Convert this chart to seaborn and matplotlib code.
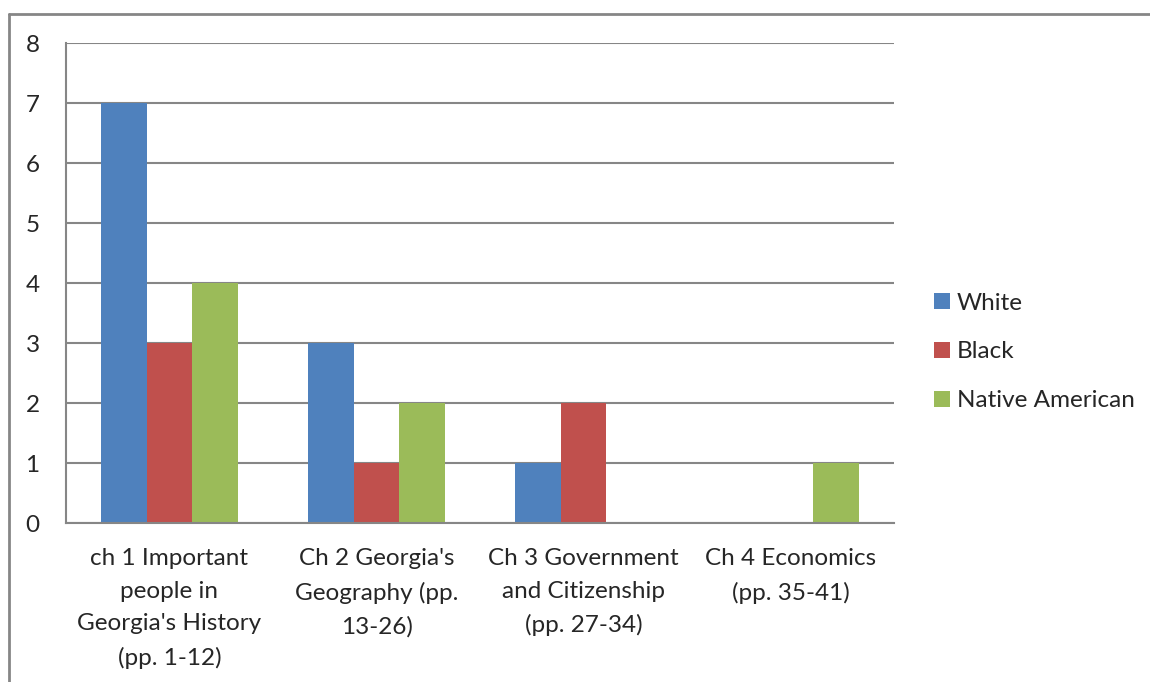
import matplotlib
matplotlib.use("Agg")
import matplotlib.pyplot as plt
import seaborn as sns
import pandas as pd
from matplotlib.lines import Line2D

categories = ["ch 1 Important\npeople in\nGeorgia's History\n(pp. 1-12)",
              "Ch 2 Georgia's\nGeography (pp.\n13-26)",
              "Ch 3 Government\nand Citizenship\n(pp. 27-34)",
              "Ch 4 Economics\n(pp. 35-41)"]
series_names = ["White", "Black", "Native American"]
white = [7, 3, 1, 0]
black = [3, 1, 2, 0]
native = [4, 2, 0, 1]
colors = ["#4F81BD", "#C0504D", "#9BBB59"]
y_ticks = [0, 1, 2, 3, 4, 5, 6, 7, 8]

rows = []
for name, vals in zip(series_names, [white, black, native]):
    for c, v in zip(categories, vals):
        rows.append({"cat": c, "series": name, "value": v})
df = pd.DataFrame(rows)

sns.set_style("white")
plt.rcParams['font.family'] = ['Lato', 'DejaVu Sans']

FS = 17.5
fig = plt.figure(figsize=(11.5, 6.82), dpi=100)
ax = fig.add_axes([66/1150, 1-523/682, (894-66)/1150, (523-43)/682])

sns.barplot(data=df, x="cat", y="value", hue="series", order=categories,
            hue_order=series_names, palette=colors, width=0.66, gap=0,
            saturation=1, ax=ax, legend=True, linewidth=0)

grid_c = "#868686"
ax.set_ylim(0, 8)
ax.set_xlim(-0.5, len(categories) - 0.5)
ax.set_yticks(y_ticks)
ax.set_yticklabels([str(t) for t in y_ticks], fontsize=FS)
ax.yaxis.grid(True, color=grid_c, linewidth=1.5)
ax.set_axisbelow(True)
ax.set_xticks(range(len(categories)))
ax.set_xticklabels(categories, fontsize=FS, linespacing=1.69, va="top")
ax.set_xticks([i - 0.5 for i in range(len(categories) + 1)], minor=True)
ax.tick_params(axis="x", which="major", length=0, pad=18)
ax.tick_params(axis="x", which="minor", length=6, width=1.5, color=grid_c, direction="out")
ax.tick_params(axis="y", length=6.5, width=1.5, color=grid_c, direction="out", pad=12.5)
ax.set_xlabel("")
ax.set_ylabel("")
for s in ["top", "right"]:
    ax.spines[s].set_visible(False)
for s in ["left", "bottom"]:
    ax.spines[s].set_color(grid_c)
    ax.spines[s].set_linewidth(1.5)

handles, labels = ax.get_legend_handles_labels()
ax.legend(handles, labels, loc="center left", bbox_to_anchor=(934/1150, 1-352/682),
          bbox_transform=fig.transFigure, frameon=False, fontsize=FS,
          borderpad=0, borderaxespad=0,
          handlelength=0.65, handleheight=0.65, handletextpad=0.3, labelspacing=1.15)

# outer chart border (top and left visible)
fig.add_artist(Line2D([9/1150, 1.0], [1-14/682, 1-14/682], transform=fig.transFigure,
                      color=grid_c, linewidth=2))
fig.add_artist(Line2D([9/1150, 9/1150], [1-14/682, 0.0], transform=fig.transFigure,
                      color=grid_c, linewidth=2))

fig.savefig("out.png", dpi=100)
